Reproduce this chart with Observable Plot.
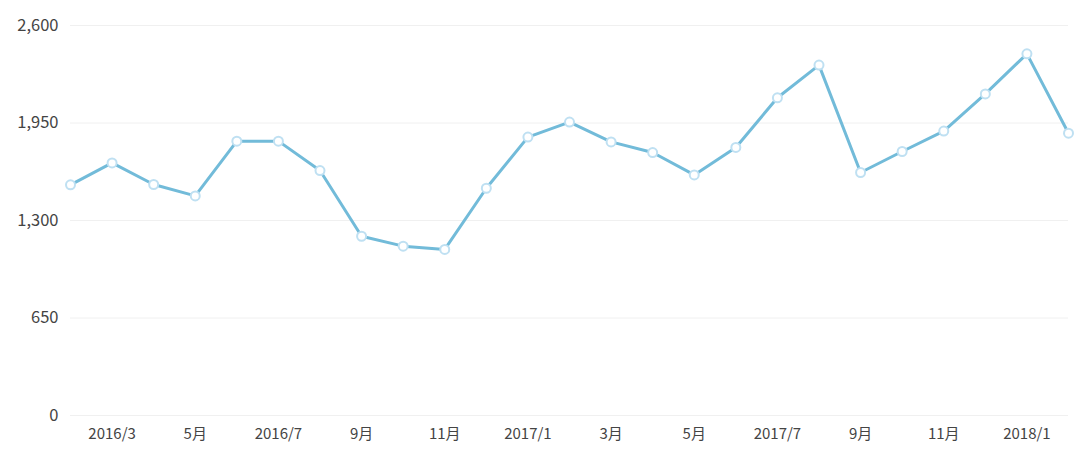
<!DOCTYPE html>
<html>
<head>
<meta charset="utf-8">
<script src="https://cdn.jsdelivr.net/npm/d3@7"></script>
<script src="https://cdn.jsdelivr.net/npm/@observablehq/plot@0.6"></script>
<style>
  html, body { margin: 0; padding: 0; background: #fff; }
  #chart { width: 1080px; height: 465px; }
  svg { font-family: "Noto Sans CJK SC", "Noto Sans", sans-serif; }
</style>
</head>
<body>
<div id="chart"></div>
<script>
const months = [
  "2016/2","2016/3","2016/4","2016/5","2016/6","2016/7","2016/8","2016/9","2016/10","2016/11","2016/12",
  "2017/1","2017/2","2017/3","2017/4","2017/5","2017/6","2017/7","2017/8","2017/9","2017/10","2017/11","2017/12",
  "2018/1","2018/2"
];
const values = [
  1538, 1684, 1540, 1464, 1829, 1829, 1633, 1195, 1129, 1107, 1515,
  1856, 1956, 1824, 1753, 1604, 1787, 2118, 2336, 1620, 1760, 1896, 2144,
  2411, 1882
];
const xTicks = ["2016/3","2016/5","2016/7","2016/9","2016/11","2017/1","2017/3","2017/5","2017/7","2017/9","2017/11","2018/1"];
const xTickLabels = ["2016/3","5月","2016/7","9月","11月","2017/1","3月","5月","2017/7","9月","11月","2018/1"];
const yTicks = [0, 650, 1300, 1950, 2600];

const data = months.map((m, i) => ({month: m, value: values[i]}));
const labelOf = new Map(xTicks.map((t, i) => [t, xTickLabels[i]]));

const chart = Plot.plot({
  width: 1080,
  height: 465,
  marginLeft: 70,
  marginRight: 12,
  marginTop: 25,
  marginBottom: 50,
  style: {fontSize: "15px", color: "#555", background: "#fff"},
  x: {type: "point", domain: months, padding: 0, round: false},
  y: {domain: [0, 2600]},
  marks: [
    Plot.gridY(yTicks, {stroke: "#f0f0f0", strokeOpacity: 1, strokeWidth: 1}),
    Plot.axisY({ticks: yTicks, tickSize: 0, tickPadding: 12, tickFormat: d3.format(","), fontSize: 16.5, fill: "#444", label: null}),
    Plot.axisX({ticks: xTicks, tickSize: 0, tickPadding: 13, tickFormat: d => labelOf.get(d), fontSize: 15, fill: "#444", label: null}),
    Plot.line(data, {x: "month", y: "value", stroke: "#72bbd9", strokeWidth: 3}),
    Plot.dot(data, {x: "month", y: "value", r: 4.5, fill: "#fff", stroke: "#bfe0f2", strokeWidth: 2})
  ]
});
document.getElementById("chart").appendChild(chart);
</script>
</body>
</html>
